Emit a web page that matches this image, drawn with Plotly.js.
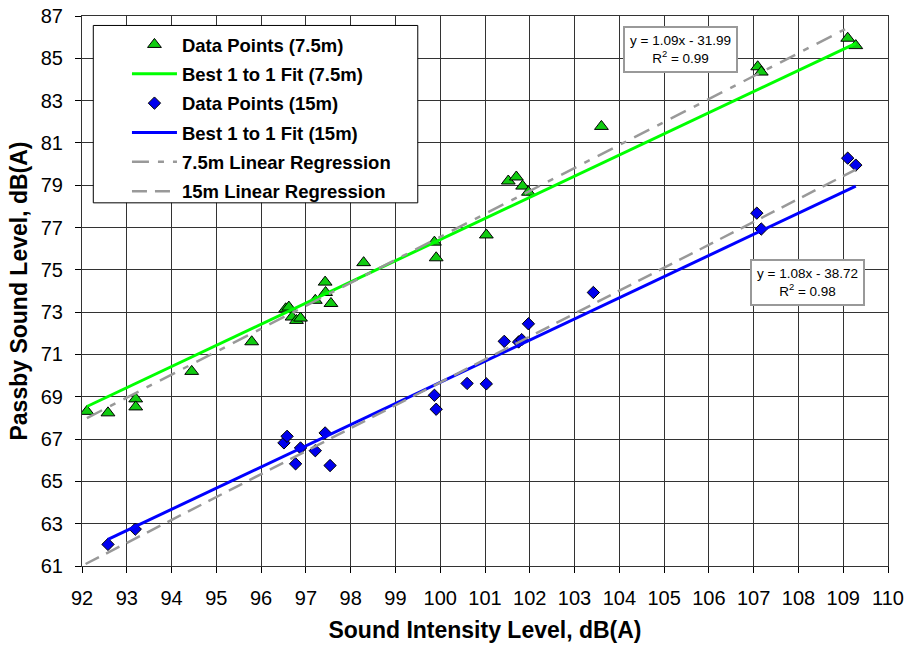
<!DOCTYPE html>
<html>
<head>
<meta charset="utf-8">
<script src="https://cdn.plot.ly/plotly-3.0.1.min.js"></script>
<style>html,body{margin:0;padding:0;background:#fff;}#chart{width:909px;height:646px;}</style>
</head>
<body>
<div id="chart"></div>
<script>
// ---- Data ----
const green_x = [92.11, 92.58, 93.20, 93.20, 94.45, 95.79, 96.55, 96.62, 96.69, 96.79, 96.88, 97.21, 97.43, 97.44, 97.56, 98.29, 99.87, 99.91, 101.03, 101.52, 101.70, 101.84, 101.97, 103.60, 107.09, 107.17, 109.10, 109.28];
const green_y = [68.31, 68.24, 68.90, 68.52, 70.20, 71.60, 73.16, 73.24, 72.77, 72.61, 72.72, 73.56, 74.42, 73.93, 73.41, 75.34, 76.31, 75.57, 76.65, 79.20, 79.39, 78.96, 78.67, 81.78, 84.60, 84.35, 85.95, 85.60];
const blue_x = [92.58, 93.19, 96.51, 96.58, 96.77, 96.88, 97.21, 97.43, 97.54, 99.87, 99.91, 100.60, 101.03, 101.43, 101.75, 101.82, 101.97, 103.42, 107.07, 107.17, 109.10, 109.28];
const blue_y = [62.02, 62.74, 66.82, 67.13, 65.83, 66.58, 66.45, 67.29, 65.75, 69.07, 68.41, 69.63, 69.61, 71.62, 71.59, 71.70, 72.45, 73.93, 77.68, 76.93, 80.28, 79.95];

// Best 1-to-1 fits: y = x + offset
const fit_green_x = [92.11, 109.28];
const fit_green_offset = -23.57;
const fit_blue_x = [92.58, 109.28];
const fit_blue_offset = -30.32;

// Linear regressions: y = slope*x + intercept
const reg_green_x = [92.11, 109.22];
const reg_green_coef = [1.0855, -31.99];
const reg_blue_x = [92.08, 109.28];
const reg_blue_coef = [1.084, -38.72];

const legend_names = ["Data Points (7.5m)", "Best 1 to 1 Fit (7.5m)", "Data Points (15m)", "Best 1 to 1 Fit (15m)", "7.5m Linear Regression", "15m Linear Regression"];
const eq_labels = ["y = 1.09x - 31.99<br>R<sup>2</sup> = 0.99", "y = 1.08x - 38.72<br>R<sup>2</sup> = 0.98"];
const eq_pos_x = [105.36, 108.2];
const eq_pos_y = [85.44, 74.38];

const x_ticks = [92,93,94,95,96,97,98,99,100,101,102,103,104,105,106,107,108,109,110];
const y_ticks = [61,63,65,67,69,71,73,75,77,79,81,83,85,87];

const oneToOne = (xs, off) => xs.map(v => v + off);
const linear = (xs, c) => xs.map(v => c[0]*v + c[1]);

const FONT = "Liberation Sans, Arial, sans-serif";

const traces = [
  {x: green_x, y: green_y, name: legend_names[0], mode: 'markers', type: 'scatter', legendgroup: 'g1',
   marker: {symbol: 'triangle-up', size: 12, color: '#11CC11', line: {color: '#000', width: 1}}},
  {x: fit_green_x, y: oneToOne(fit_green_x, fit_green_offset), name: legend_names[1], mode: 'lines', legendgroup: 'g2',
   line: {color: '#00FF00', width: 3}},
  {x: blue_x, y: blue_y, name: legend_names[2], mode: 'markers', type: 'scatter', legendgroup: 'g3',
   marker: {symbol: 'diamond', size: 9.5, color: '#0000EE', line: {color: '#000', width: 1}}},
  {x: fit_blue_x, y: oneToOne(fit_blue_x, fit_blue_offset), name: legend_names[3], mode: 'lines', legendgroup: 'g4',
   line: {color: '#0000FF', width: 3}},
  {x: reg_green_x, y: linear(reg_green_x, reg_green_coef), name: legend_names[4], mode: 'lines', legendgroup: 'g5',
   line: {color: '#999999', width: 2.5, dash: '17px,9px,6px,9px'}},
  {x: reg_blue_x, y: linear(reg_blue_x, reg_blue_coef), name: legend_names[5], mode: 'lines', legendgroup: 'g6',
   line: {color: '#999999', width: 2.5, dash: '15px,8px'}}
];

const annotations = eq_labels.map((t, i) => ({
  x: eq_pos_x[i], y: eq_pos_y[i], xref: 'x', yref: 'y', text: t, showarrow: false,
  font: {family: FONT, size: 13.5, color: '#000'}, align: 'center',
  bgcolor: '#fff', bordercolor: '#999', borderwidth: 2, borderpad: 5
}));

const layout = {
  width: 909, height: 646,
  margin: {l: 82, r: 20.5, t: 15.5, b: 79.5},
  paper_bgcolor: '#fff', plot_bgcolor: '#fff',
  font: {family: FONT, color: '#000'},
  showlegend: true,
  legend: {
    x: 0.0136, y: 0.982, xanchor: 'left', yanchor: 'top',
    bgcolor: 'rgba(0,0,0,0)', borderwidth: 0,
    font: {family: FONT, size: 18.5, weight: 'bold', color: '#000'},
    itemwidth: 45, indentation: 34, tracegroupgap: 2.3, traceorder: 'grouped'
  },
  shapes: [{
    type: 'rect', xref: 'paper', yref: 'paper', x0: 0.014, x1: 0.4166, y0: 0.6603, y1: 0.9828,
    fillcolor: '#fff', line: {color: '#000', width: 1}, layer: 'above'
  }],
  xaxis: {
    range: [92, 110], tickvals: x_ticks, ticktext: x_ticks.map(String),
    showgrid: true, gridcolor: '#333', gridwidth: 1, zeroline: false,
    showline: true, linecolor: '#333', linewidth: 1, mirror: true,
    ticks: 'outside', ticklen: 6, tickcolor: '#000', ticklabelstandoff: 8,
    tickfont: {family: FONT, size: 20, color: '#000'},
    title: {text: 'Sound Intensity Level, dB(A)', font: {family: FONT, size: 23, weight: 'bold', color: '#000'}, standoff: 13}
  },
  yaxis: {
    range: [61, 87], tickvals: y_ticks, ticktext: y_ticks.map(String),
    showgrid: true, gridcolor: '#333', gridwidth: 1, zeroline: false,
    showline: true, linecolor: '#333', linewidth: 1, mirror: true,
    ticks: 'outside', ticklen: 6, tickcolor: '#000', ticklabelstandoff: 8,
    tickfont: {family: FONT, size: 20, color: '#000'},
    title: {text: 'Passby Sound Level, dB(A)', font: {family: FONT, size: 23, weight: 'bold', color: '#000'}, standoff: 6}
  },
  annotations: annotations
};

Plotly.newPlot('chart', traces, layout, {displayModeBar: false, staticPlot: true});
</script>
</body>
</html>
